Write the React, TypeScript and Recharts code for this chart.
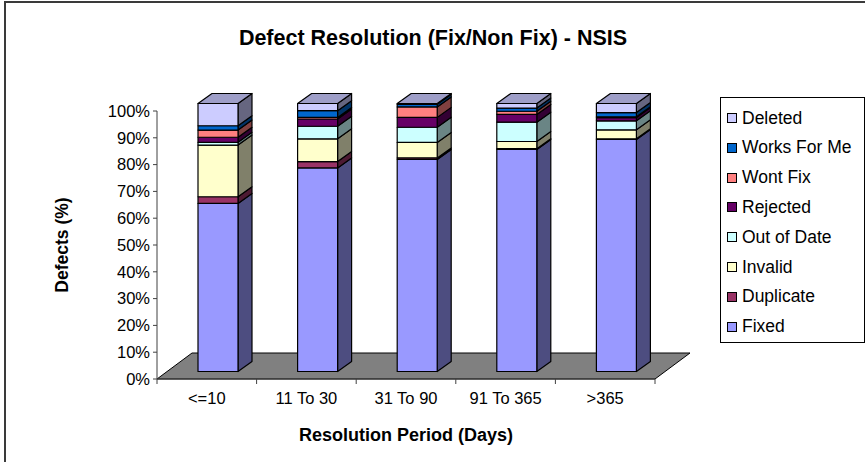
import { BarChart, Bar, XAxis, YAxis, ReferenceArea } from "recharts";

// resolution period buckets
const CATEGORIES = ["<=10", "11 To 30", "31 To 90", "91 To 365", ">365"];

// share of defects per resolution (%), bottom of the stack first
const FIXED = [62.7, 76.1, 79.5, 83.0, 87.3];
const DUPLICATE = [2.5, 2.4, 0.6, 0.3, 0.2];
const INVALID = [19.3, 8.5, 5.8, 2.7, 3.4];
const OUT_OF_DATE = [1.0, 4.7, 5.7, 7.2, 3.4];
const REJECTED = [1.9, 2.7, 3.7, 2.9, 1.2];
const WONT_FIX = [2.7, 0.6, 3.9, 1.2, 0.3];
const WORKS_FOR_ME = [1.6, 2.5, 1.0, 1.2, 1.6];
const DELETED = [8.3, 2.7, 0.3, 1.7, 3.4];

const Y_TICKS = [0, 0.1, 0.2, 0.3, 0.4, 0.5, 0.6, 0.7, 0.8, 0.9, 1];

const SERIES = [
  { key: "fixed", name: "Fixed", values: FIXED, front: "#9999FF", side: "#4D4D80", top: "#7A7ACC" },
  { key: "duplicate", name: "Duplicate", values: DUPLICATE, front: "#993366", side: "#4D1A33", top: "#7A2952" },
  { key: "invalid", name: "Invalid", values: INVALID, front: "#FFFFCC", side: "#80806A", top: "#CCCCA3" },
  { key: "outOfDate", name: "Out of Date", values: OUT_OF_DATE, front: "#CCFFFF", side: "#6A8585", top: "#A3CCCC" },
  { key: "rejected", name: "Rejected", values: REJECTED, front: "#660066", side: "#330033", top: "#520052" },
  { key: "wontFix", name: "Wont Fix", values: WONT_FIX, front: "#FF8080", side: "#804040", top: "#CC6666" },
  { key: "worksForMe", name: "Works For Me", values: WORKS_FOR_ME, front: "#0066CC", side: "#003366", top: "#0052A3" },
  { key: "deleted", name: "Deleted", values: DELETED, front: "#CCCCFF", side: "#666680", top: "#9E9EC8" },
];

const rows = CATEGORIES.map((c, i) => {
  const row: any = { period: c };
  for (const s of SERIES) row[s.key] = s.values[i];
  return row;
});

const W = 865;
const H = 462;
const MARGIN = { top: 111, right: 210, bottom: 21, left: 57 };
const Y_AXIS_W = 100;
const X_AXIS_H = 62;
const PLOT_LEFT = MARGIN.left + Y_AXIS_W;
const PLOT_RIGHT = W - MARGIN.right;
const BAND = (PLOT_RIGHT - PLOT_LEFT) / CATEGORIES.length;

// 3d offsets: where the bar sits on the floor, and the depth of the bar itself
const OFF_X = 11;
const OFF_Y = -7.5;
const DEPTH_X = 14;
const DEPTH_Y = 10;
// depth of the floor slab
const FLOOR_X = 35;
const FLOOR_Y = 26;

const FONT = "'Liberation Sans', Arial, sans-serif";

function Block(props: any) {
  const { x, y, width, height, front, side, top, isTop } = props;
  if (x == null || y == null) return null;
  const fx = x + OFF_X;
  const fy = y + OFF_Y;
  const h = Math.max(0, height);
  const r = fx + width;
  return (
    <g stroke="#000" strokeWidth={1.2} strokeLinejoin="round">
      <path
        d={`M${r},${fy} L${r + DEPTH_X},${fy - DEPTH_Y} L${r + DEPTH_X},${fy + h - DEPTH_Y} L${r},${fy + h} Z`}
        fill={side}
      />
      <rect x={fx} y={fy} width={width} height={h} fill={front} />
      {isTop && (
        <path
          d={`M${fx},${fy} L${fx + DEPTH_X},${fy - DEPTH_Y} L${r + DEPTH_X},${fy - DEPTH_Y} L${r},${fy} Z`}
          fill={top}
        />
      )}
    </g>
  );
}

function Floor(props: any) {
  const { x, y, width, height } = props;
  const base = y + height;
  const l = x;
  const r = x + width;
  return (
    <path
      d={`M${l},${base} L${r},${base} L${r + FLOOR_X},${base - FLOOR_Y} L${l + FLOOR_X},${base - FLOOR_Y} Z`}
      fill="#808080"
      stroke="#000"
      strokeWidth={1}
    />
  );
}

function PeriodTick(props: any) {
  const { x, y, payload, index } = props;
  const last = index === CATEGORIES.length - 1;
  return (
    <g>
      <line x1={x - BAND / 2} y1={y} x2={x - BAND / 2} y2={y + 5} stroke="#404040" />
      {last && <line x1={x + BAND / 2} y1={y} x2={x + BAND / 2} y2={y + 5} stroke="#404040" />}
      <text x={x} y={y + 25} textAnchor="middle" fontSize={16.5} fontFamily={FONT} fill="#000">
        {payload.value}
      </text>
    </g>
  );
}

export default function App() {
  const legendItems = [...SERIES].reverse();
  return (
    <div style={{ position: "absolute", left: 0, top: 0, width: W, height: H, background: "#fff", overflow: "hidden" }}>
      <div
        style={{
          position: "absolute",
          left: 4,
          top: 1,
          width: W,
          height: H,
          borderTop: "2px solid #3a3a3a",
          borderLeft: "2px solid #3a3a3a",
        }}
      />
      <div
        style={{
          position: "absolute",
          left: 0,
          width: 866,
          top: 26,
          textAlign: "center",
          fontFamily: FONT,
          fontWeight: "bold",
          fontSize: 21.5,
          color: "#000",
        }}
      >
        Defect Resolution (Fix/Non Fix) - NSIS
      </div>
      <div style={{ position: "absolute", left: 0, top: 0 }}>
        <BarChart width={W} height={H} data={rows} margin={MARGIN} stackOffset="expand" barSize={40}>
          <ReferenceArea x1={CATEGORIES[0]} x2={CATEGORIES[CATEGORIES.length - 1]} y1={0} y2={0.05} shape={Floor} />
          <XAxis
            dataKey="period"
            height={X_AXIS_H}
            tickLine={false}
            tickSize={0}
            tickMargin={0}
            axisLine={{ stroke: "#404040" }}
            tick={PeriodTick}
            label={{
              value: "Resolution Period (Days)",
              position: "insideBottom",
              offset: 0,
              style: { fontFamily: FONT, fontWeight: "bold", fontSize: 18, fill: "#000" },
            }}
          />
          <YAxis
            width={Y_AXIS_W}
            domain={[0, 1]}
            ticks={Y_TICKS}
            tickFormatter={(v: number) => `${Math.round(v * 100)}%`}
            tick={{ fontSize: 16.5, fontFamily: FONT, fill: "#000" }}
            tickSize={4}
            tickMargin={3}
            tickLine={{ stroke: "#404040" }}
            axisLine={{ stroke: "#404040" }}
            label={{
              value: "Defects (%)",
              angle: -90,
              position: "insideLeft",
              offset: 5,
              style: { fontFamily: FONT, fontWeight: "bold", fontSize: 17.5, fill: "#000", textAnchor: "middle" },
            }}
          />
          {SERIES.map((s, i) => (
            <Bar
              key={s.key}
              dataKey={s.key}
              name={s.name}
              stackId="a"
              fill={s.front}
              isAnimationActive={false}
              shape={(p: any) => (
                <Block {...p} front={s.front} side={s.side} top={s.top} isTop={i === SERIES.length - 1} />
              )}
            />
          ))}
        </BarChart>
      </div>
      <div
        style={{
          position: "absolute",
          left: 720,
          top: 97,
          width: 143,
          height: 244,
          border: "1px solid #000",
          background: "#fff",
          fontFamily: FONT,
          fontSize: 17.5,
          color: "#000",
        }}
      >
        {legendItems.map((s, i) => (
          <div
            key={s.key}
            style={{ position: "absolute", left: 6, top: 9 + i * 29.8, height: 22, display: "flex", alignItems: "center", whiteSpace: "nowrap" }}
          >
            <span
              style={{ display: "inline-block", width: 8, height: 8, border: "1px solid #000", background: s.front, marginRight: 5 }}
            />
            {s.name}
          </div>
        ))}
      </div>
    </div>
  );
}
